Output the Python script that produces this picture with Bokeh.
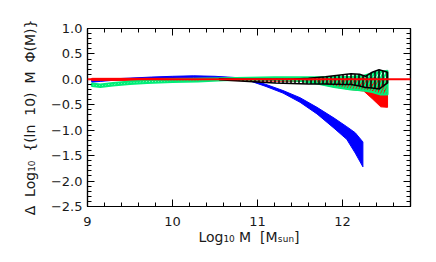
import numpy as np
from bokeh.plotting import figure
from bokeh.models import (FixedTicker, LinearAxis, Range1d, Span, CustomJSTickFormatter)
from bokeh.embed import file_html
from bokeh.resources import INLINE

# ---------------- data ----------------
blue_x  = [9.05, 9.15, 9.3, 9.5, 9.75, 10.0, 10.25, 10.5, 10.75, 10.9, 11.1, 11.3, 11.5, 11.7, 11.9, 12.05, 12.15, 12.24]
blue_lo = [-0.055, -0.04, -0.02, 0.0, 0.015, 0.025, 0.035, 0.025, 0.005, -0.025, -0.14, -0.27, -0.45, -0.68, -0.96, -1.18, -1.45, -1.72]
blue_hi = [-0.01, -0.005, 0.01, 0.025, 0.045, 0.06, 0.07, 0.06, 0.035, 0.005, -0.10, -0.22, -0.36, -0.55, -0.76, -0.93, -1.05, -1.23]

red_x  = [9.05, 9.5, 10.0, 10.5, 11.0, 11.5, 11.7, 11.9, 12.1, 12.25, 12.35, 12.45, 12.53]
red_lo = [-0.02, -0.02, -0.02, -0.02, -0.03, -0.04, -0.08, -0.15, -0.20, -0.23, -0.38, -0.54, -0.55]
red_hi = [0.02, 0.02, 0.02, 0.02, 0.02, 0.02, 0.02, 0.02, 0.03, 0.03, 0.03, 0.02, 0.0]

green_x  = [9.05, 9.15, 9.3, 9.5, 9.7, 10.0, 10.3, 10.6, 10.9, 11.2, 11.5, 11.7, 11.9, 12.1, 12.25, 12.35, 12.45, 12.53]
green_lo = [-0.13, -0.15, -0.12, -0.09, -0.07, -0.05, -0.04, -0.02, -0.01, -0.01, -0.03, -0.08, -0.15, -0.20, -0.22, -0.25, -0.30, -0.30]
green_hi = [-0.08, -0.10, -0.07, -0.04, -0.02, 0.0, 0.01, 0.02, 0.03, 0.04, 0.04, 0.04, 0.04, 0.05, 0.07, 0.12, 0.15, 0.17]

black_x  = [10.55, 10.8, 11.0, 11.2, 11.4, 11.6, 11.8, 12.0, 12.1, 12.2, 12.27, 12.35, 12.43, 12.53]
black_lo = [-0.01, -0.03, -0.05, -0.07, -0.08, -0.09, -0.09, -0.10, -0.10, -0.13, -0.16, -0.17, -0.19, -0.07]
black_hi = [0.01, 0.0, 0.0, 0.0, 0.0, 0.02, 0.05, 0.09, 0.11, 0.10, 0.06, 0.14, 0.19, 0.14]

x_ticks = [9, 10, 11, 12]
y_ticks = [-2.5, -2.0, -1.5, -1.0, -0.5, 0.0, 0.5, 1.0]

NB = "\u00a0"
x_title = "Log\u2081\u2080 M" + NB + " [M\u209b\u1d64\u2099]"
y_title = ("\u0394" + NB + " Log\u2081\u2080" + NB + " {(ln" + NB + " 10)" + NB + " M" + NB + " \u03a6(M)}")

BLUE, RED, GREEN, BLACK = "#0000FF", "#FF0000", "#00EE77", "#000000"
FONT = "DejaVu Sans"
TXT = "#1a1a1a"

# ---------------- figure ----------------
p = figure(width=430, height=256, output_backend="svg", toolbar_location=None,
           x_range=Range1d(9.0, 12.8), y_range=Range1d(-2.5, 1.0),
           min_border_left=87, min_border_right=20, min_border_top=28, min_border_bottom=50,
           x_axis_location=None, y_axis_location=None)
p.xgrid.visible = False
p.ygrid.visible = False
p.outline_line_color = BLACK
p.outline_line_width = 1.2
p.background_fill_color = "white"
p.border_fill_color = "white"


def band(x, lo, hi):
    return list(x) + list(x)[::-1], list(hi) + list(lo)[::-1]


bx, by = band(blue_x, blue_lo, blue_hi)
p.patch(bx, by, fill_color=BLUE, line_color=BLUE, line_width=1)

rx, ry = band(red_x, red_lo, red_hi)
p.patch(rx, ry, fill_color=RED, line_color=RED, line_width=1)

gx, gy = band(green_x, green_lo, green_hi)
p.patch(gx, gy, fill_color=None, fill_alpha=0, hatch_pattern="/", hatch_color=GREEN,
        hatch_weight=2, hatch_scale=6, line_color=GREEN, line_width=2)

p.add_layout(Span(location=0, dimension="width", line_color=RED, line_width=2))

kx, ky = band(black_x, black_lo, black_hi)
p.patch(kx, ky, fill_color=None, fill_alpha=0, hatch_pattern="|", hatch_color=BLACK,
        hatch_weight=1.5, hatch_scale=4, line_color=BLACK, line_width=1.5)

# ---------------- axes ----------------
x_minor = [round(v, 2) for v in np.arange(9.0, 12.81, 0.2)]
y_minor = [round(v, 2) for v in np.arange(-2.5, 1.01, 0.1)]

blank = CustomJSTickFormatter(code="return '';")
yfmt = CustomJSTickFormatter(code="return (tick < -1e-9 ? '\\u2212' : '') + Math.abs(tick).toFixed(1);")


def style(ax):
    ax.major_tick_in = 7
    ax.major_tick_out = 0
    ax.minor_tick_in = 4
    ax.minor_tick_out = 0
    ax.axis_line_color = BLACK
    ax.axis_line_width = 1.2
    ax.major_tick_line_color = BLACK
    ax.minor_tick_line_color = BLACK
    ax.major_tick_line_width = 1
    ax.minor_tick_line_width = 1
    ax.major_label_text_font = FONT
    ax.major_label_text_font_size = "13px"
    ax.major_label_text_color = TXT
    ax.axis_label_text_font = FONT
    ax.axis_label_text_font_size = "14px"
    ax.axis_label_text_font_style = "normal"
    ax.axis_label_text_color = TXT


xb = LinearAxis(ticker=FixedTicker(ticks=x_ticks, minor_ticks=x_minor), axis_label=x_title)
style(xb)
xb.major_label_standoff = 10
xb.axis_label_standoff = 0
p.add_layout(xb, "below")
xt = LinearAxis(ticker=FixedTicker(ticks=x_ticks, minor_ticks=x_minor), formatter=blank)
style(xt)
p.add_layout(xt, "above")

yl = LinearAxis(ticker=FixedTicker(ticks=y_ticks, minor_ticks=y_minor), formatter=yfmt, axis_label=y_title)
style(yl)
yl.major_label_standoff = 5
yl.axis_label_standoff = 10
p.add_layout(yl, "left")
yr = LinearAxis(ticker=FixedTicker(ticks=y_ticks, minor_ticks=y_minor), formatter=blank)
style(yr)
p.add_layout(yr, "right")

open("out.html", "w").write(file_html(p, INLINE))
